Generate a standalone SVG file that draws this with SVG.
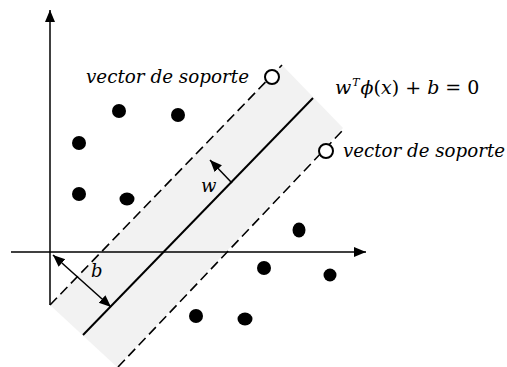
<svg xmlns="http://www.w3.org/2000/svg" width="507" height="367" viewBox="0 0 507 367">
<style>
.ax{stroke:#000;stroke-width:1.5;fill:none}
.dash{stroke:#000;stroke-width:1.6;stroke-dasharray:10,5;fill:none}
.solid{stroke:#000;stroke-width:2;fill:none}
.dot{fill:#000}
.sv{fill:#fff;stroke:#000;stroke-width:2}
.t{font-family:"DejaVu Serif","Liberation Serif",serif;font-size:18px;font-style:italic;fill:#000}
.u{font-style:normal}
</style>
<defs>
<marker id="ah" markerUnits="userSpaceOnUse" markerWidth="13" markerHeight="11" refX="12" refY="5" orient="auto-start-reverse">
<path d="M0,0 L12,5 L0,10 z" fill="#000"/>
</marker>
</defs>
<polygon id="band" points="50,305 282,65 343,128 117,367" fill="#f2f2f2"/>
<g id="connectors">
<line class="ax" x1="50" y1="305" x2="50" y2="10" marker-end="url(#ah)"/>
<line class="ax" x1="11" y1="252" x2="366" y2="252" marker-end="url(#ah)"/>
<line class="dash" x1="50" y1="305" x2="282" y2="65"/>
<line class="solid" x1="83" y1="335" x2="313" y2="98"/>
<line class="dash" x1="118" y1="367" x2="343" y2="130"/>
<line class="ax" x1="232" y1="183" x2="210" y2="160" marker-end="url(#ah)"/>
<line class="ax" x1="53" y1="255" x2="111" y2="307" marker-start="url(#ah)" marker-end="url(#ah)"/>
</g>
<g id="points">
<circle class="dot" cx="119" cy="111" r="7"/>
<circle class="dot" cx="178" cy="115" r="7"/>
<circle class="dot" cx="79" cy="143" r="7"/>
<circle class="dot" cx="79" cy="194" r="7"/>
<ellipse class="dot" cx="127" cy="199" rx="7.5" ry="6.5"/>
<ellipse class="dot" cx="299" cy="230" rx="6.5" ry="7.5"/>
<circle class="dot" cx="264" cy="268" r="7"/>
<circle class="dot" cx="330" cy="275" r="6.5"/>
<circle class="dot" cx="196" cy="316" r="7"/>
<ellipse class="dot" cx="245" cy="319" rx="7.5" ry="6.5"/>
</g>
<g id="sv1"><circle class="sv" cx="272" cy="77" r="7"/></g>
<g id="sv2"><circle class="sv" cx="326" cy="151" r="7"/></g>
<g id="labels">
<text class="t" x="86" y="83" textLength="163" lengthAdjust="spacingAndGlyphs">vector de soporte</text>
<text class="t" x="343" y="157" textLength="162" lengthAdjust="spacingAndGlyphs">vector de soporte</text>
<text class="t" x="201" y="192">w</text>
<text class="t" x="91" y="277">b</text>
<text id="equation" class="t" x="335" y="94" style="font-size:19px">w<tspan style="font-size:11px" dx="1" dy="-8">T</tspan><tspan dx="1" dy="8">ϕ</tspan><tspan class="u">(</tspan>x<tspan class="u">) + </tspan>b<tspan class="u"> = 0</tspan></text>
</g>
</svg>
